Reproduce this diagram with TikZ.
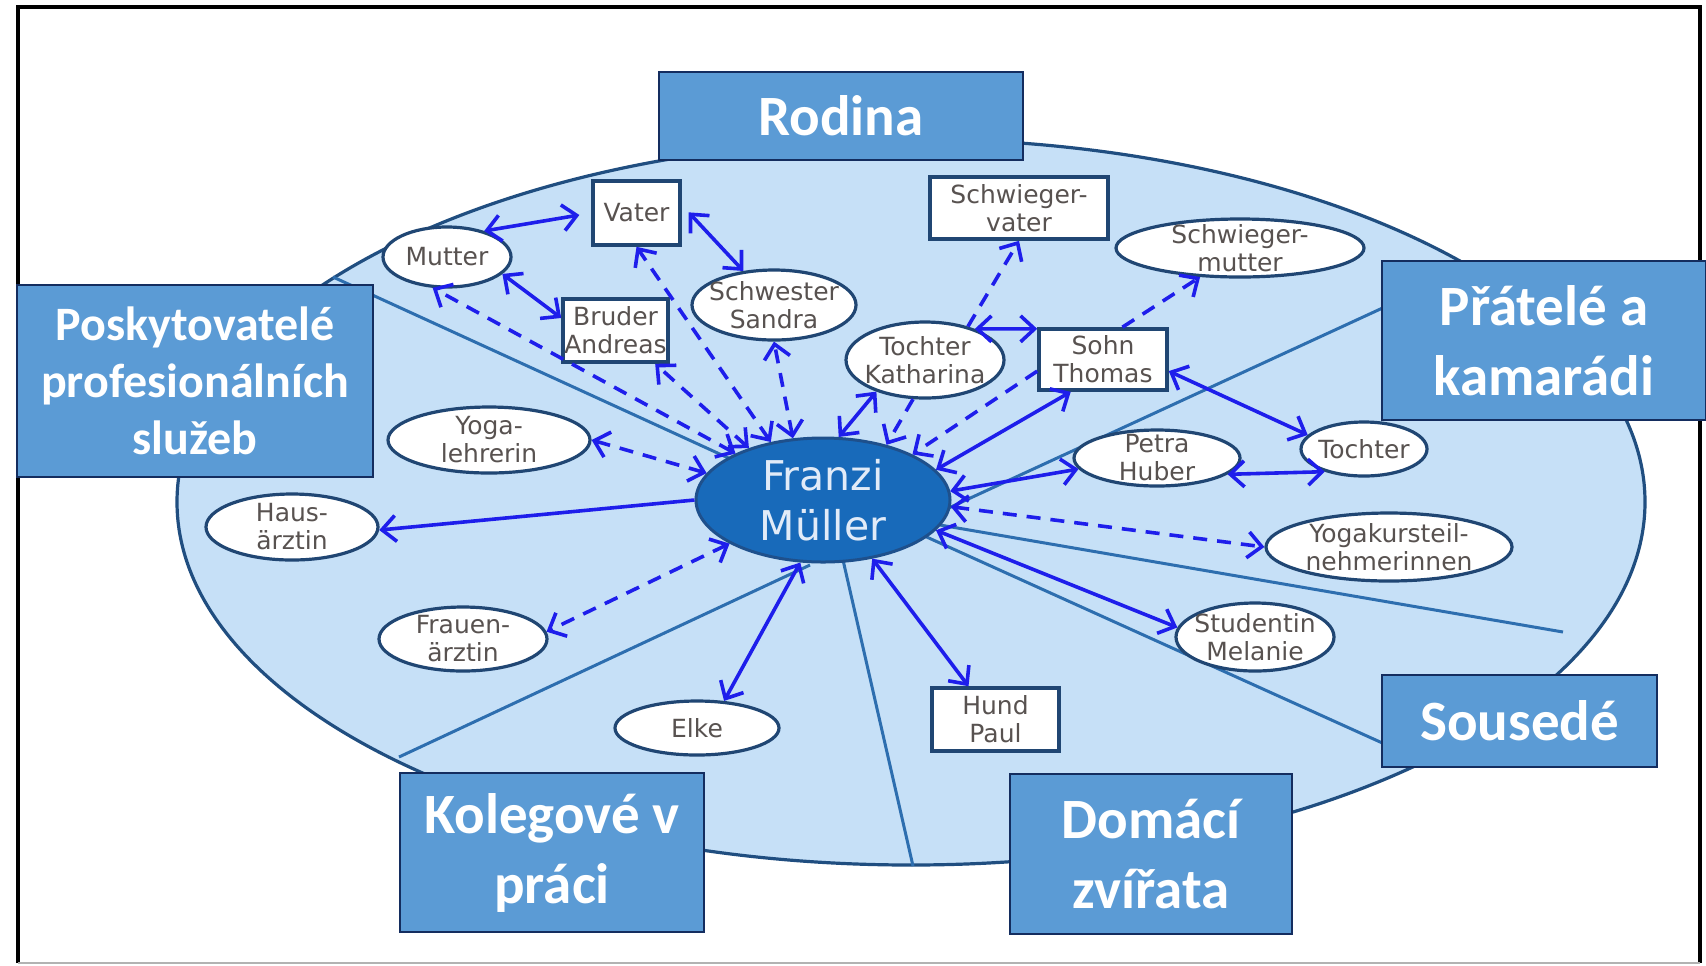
\documentclass[tikz,border=0pt]{standalone}
\usepackage{fontspec}
\setmainfont{Carlito}
\newfontfamily\nodefont{DejaVu Sans}
\usetikzlibrary{shapes.geometric,arrows.meta}
\definecolor{bgfill}{RGB}{198,224,247}
\definecolor{bgline}{RGB}{32,78,128}
\definecolor{divline}{RGB}{45,110,175}
\definecolor{nodeline}{RGB}{32,70,115}
\definecolor{nodetext}{RGB}{88,82,80}
\definecolor{arrowblue}{RGB}{30,30,235}
\definecolor{franzifill}{RGB}{24,106,186}
\definecolor{franziline}{RGB}{30,80,140}
\definecolor{franzitext}{RGB}{225,235,248}
\definecolor{boxfill}{RGB}{91,155,213}
\definecolor{boxline}{RGB}{20,45,95}
\newcommand\zc[1]{\hbox to 0pt{\hss\vbox to 0pt{\vss\halign{\hfil##\hfil\cr#1\crcr}\vss}\hss}}
\tikzset{
  ell/.style={ellipse, draw=nodeline, line width=1.6pt, fill=white, inner sep=0pt,
    font=\nodefont\fontsize{12.5}{14}\selectfont, text=nodetext},
  rec/.style={rectangle, draw=nodeline, line width=1.8pt, fill=white, inner sep=0pt,
    font=\nodefont\fontsize{12.5}{14}\selectfont, text=nodetext},
  catbox/.style={rectangle, draw=boxline, line width=1.2pt, fill=boxfill, inner sep=0pt,
    text=white, font=\bfseries\fontsize{28.5}{35}\selectfont},
  >={Straight Barb[length=7pt,width=13pt]},
  link/.style={draw=arrowblue, line width=1.8pt, <->},
  oneway/.style={draw=arrowblue, line width=1.8pt, ->},
  dlink/.style={draw=arrowblue, line width=1.8pt, dash pattern=on 7pt off 5pt, <->},
  done/.style={draw=arrowblue, line width=1.8pt, dash pattern=on 7pt off 5pt, ->},
  divider/.style={draw=divline, line width=1.5pt}
}
\begin{document}
\begin{tikzpicture}[x=0.5pt,y=-0.5pt]
\useasboundingbox (0,0) rectangle (1706,965);
\fill[white] (0,0) rectangle (1706,965);
% frame
\draw[black, line width=2pt] (18,963) -- (18,7) -- (1700,7) -- (1700,963);
\draw[gray!60, line width=1pt] (18,963) -- (1700,963);
% big ellipse
\filldraw[fill=bgfill, draw=bgline, line width=1.6pt] (911,502) ellipse [x radius=734, y radius=363];
% sector dividers
\draw[divider] (333,277) -- (735,461);
\draw[divider] (399,757) -- (810,565);
\draw[divider] (843,560) -- (913,866);
\draw[divider] (920,534) -- (1420,760);
\draw[divider] (940,525) -- (1563,632);
\draw[divider] (940,512) -- (1465,270);
% persons
\node[ell, minimum width=64pt, minimum height=30pt] (mutter) at (447,257) {\zc{Mutter}};
\node[rec, minimum width=43.5pt, minimum height=32pt] (vater) at (636.5,213) {\zc{Vater}};
\node[rec, minimum width=52.5pt, minimum height=31.5pt] (bruder) at (615.5,330.5) {\zc{Bruder\cr Andreas}};
\node[ell, minimum width=82pt, minimum height=35pt] (schwester) at (774,305) {\zc{Schwester\cr Sandra}};
\node[rec, minimum width=89pt, minimum height=31pt] (schwiegervater) at (1019,208) {\zc{Schwieger-\cr vater}};
\node[ell, minimum width=124pt, minimum height=29pt] (schwiegermutter) at (1240,248) {\zc{Schwieger-\cr mutter}};
\node[ell, minimum width=79pt, minimum height=38pt] (katharina) at (925,360) {\zc{Tochter\cr Katharina}};
\node[rec, minimum width=64pt, minimum height=30.5pt] (sohn) at (1103,359.5) {\zc{Sohn\cr Thomas}};
\node[ell, minimum width=63pt, minimum height=27pt] (tochter) at (1364,449) {\zc{Tochter}};
\node[ell, minimum width=83pt, minimum height=28pt] (petra) at (1157,458) {\zc{Petra\cr Huber}};
\node[ell, minimum width=123pt, minimum height=34pt] (yogakurs) at (1389,547) {\zc{Yogakursteil-\cr nehmerinnen}};
\node[ell, minimum width=79pt, minimum height=34pt] (studentin) at (1255,637) {\zc{Studentin\cr Melanie}};
\node[rec, minimum width=63.5pt, minimum height=31.5pt] (hund) at (995.5,719.5) {\zc{Hund\cr Paul}};
\node[ell, minimum width=82pt, minimum height=27pt] (elke) at (697,728) {\zc{Elke}};
\node[ell, minimum width=84pt, minimum height=32pt] (frauenarztin) at (463,639) {\zc{Frauen-\cr ärztin}};
\node[ell, minimum width=86pt, minimum height=33pt] (hausarztin) at (292,527) {\zc{Haus-\cr ärztin}};
\node[ell, minimum width=101pt, minimum height=33pt] (yogalehrerin) at (489,440) {\zc{Yoga-\cr lehrerin}};
\node[ellipse, draw=franziline, line width=1.5pt, fill=franzifill, inner sep=0pt,
  minimum width=127pt, minimum height=62pt, text=franzitext,
  font=\nodefont\fontsize{20.5}{25}\selectfont] (franzi) at (823,500) {\zc{Franzi\cr Müller}};
% connectors
\draw[link, shorten >=6pt] (mutter.35) -- (vater.west);
\draw[link] (mutter.-17) -- (bruder.167);
\draw[link, shorten <=5pt] (vater.10) -- (schwester.132);
\draw[link] (katharina.32) -- (sohn.155);
\draw[link] (franzi.76) -- (katharina.-147);
\draw[link] (franzi.15) -- (sohn.-135);
\draw[link] (sohn.-10) -- (tochter.166);
\draw[link] (franzi.4) -- (petra.-172);
\draw[link] (petra.-13) -- (tochter.-150);
\draw[link] (franzi.-15) -- (studentin.173);
\draw[link] (franzi.-50) -- (hund.129);
\draw[link] (franzi.-110) -- (elke.45);
\draw[oneway] (franzi.180) -- (hausarztin.-2);
\draw[dlink] (franzi.152) -- (mutter.-115);
\draw[dlink] (franzi.145) -- (bruder.-40);
\draw[dlink] (franzi.132) -- (vater.-90);
\draw[dlink] (franzi.116) -- (schwester.-90);
\draw[dlink] (franzi.167) -- (yogalehrerin.0);
\draw[dlink] (franzi.-155) -- (frauenarztin.5);
\draw[dlink] (franzi.-3) -- (yogakurs.180);
\draw[done] (katharina.-107) -- (franzi.41);
\draw[done] (sohn.-170) -- (franzi.27);
\draw[done] (katharina.38) -- (schwiegervater.-90);
\draw[done] (sohn.59) -- (schwiegermutter.-144);
% category labels
\node[catbox, minimum width=182pt, minimum height=44pt] (rodina) at (841,116) {\zc{Rodina}};
\node[catbox, minimum width=178pt, minimum height=96pt, font=\bfseries\fontsize{24}{28.5}\selectfont] (poskyt) at (195,381) {\zc{Poskytovatelé\cr profesionálních\cr služeb}};
\node[catbox, minimum width=162pt, minimum height=79.5pt] (pratele) at (1544,340.5) {\zc{Přátelé a\cr kamarádi}};
\node[catbox, minimum width=137.5pt, minimum height=46pt] (sousede) at (1519.5,721) {\zc{Sousedé}};
\node[catbox, minimum width=152pt, minimum height=79.5pt] (kolegove) at (552,852.5) {\zc{Kolegové v\cr práci}};
\node[catbox, minimum width=141pt, minimum height=80pt] (domaci) at (1151,854) {\zc{Domácí\cr zvířata}};
\end{tikzpicture}
\end{document}
